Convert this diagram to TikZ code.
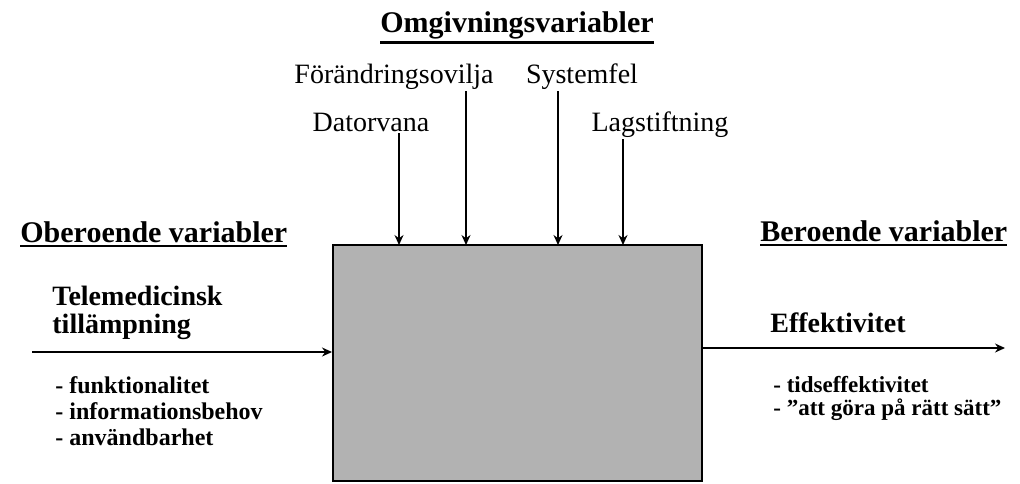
\documentclass[tikz,border=0pt]{standalone}
\usepackage{fontspec}
\setmainfont{Liberation Serif}
\usetikzlibrary{arrows.meta}

% heading with a heavy underline just under the baseline
\newcommand\ulhead[1]{\vtop{\hbox{#1}\kern1.3pt\hrule height 1.2pt}}

\begin{document}
\begin{tikzpicture}[x=0.5pt,y=-0.5pt,
    every node/.append style={inner sep=0pt},
    head/.style={font=\fontsize{15}{18}\bfseries\selectfont, anchor=base west},
    envvar/.style={font=\fontsize{14}{17}\selectfont, anchor=base, outer sep=1pt},
    varname/.style={font=\fontsize{14}{17}\bfseries\selectfont, anchor=base west},
    varitem/.style={font=\fontsize{12}{14}\bfseries\selectfont, anchor=base west},
    blackbox/.style={draw, line width=1pt, fill=black!30, minimum width=184.5pt, minimum height=118pt},
    flow/.style={-{Stealth[length=5pt,width=4.5pt]}, line width=0.7pt}]
    \useasboundingbox (0,0) rectangle (1020,483);

    % the system in the middle
    \node[blackbox] (box) at (517.5,363) {};

    % environment variables on top
    \node[head, anchor=base] (omg) at (517,32) {\ulhead{Omgivningsvariabler}};
    \node[envvar] (forand) at (394,83) {Förändringsovilja};
    \node[envvar] (sysfel) at (582,83) {Systemfel};
    \node[envvar] (dator) at (371,131) {Datorvana};
    \node[envvar] (lag) at (660,131) {Lagstiftning};
    \coordinate (in1) at (399,245);
    \coordinate (in2) at (466,245);
    \coordinate (in3) at (558,245);
    \coordinate (in4) at (623,245);
    \draw[flow] (in1 |- dator.south) -- (in1);
    \draw[flow] (in2 |- forand.south) -- (in2);
    \draw[flow] (in3 |- sysfel.south) -- (in3);
    \draw[flow] (in4 |- lag.south) -- (in4);

    % independent variables
    \node[head] (ober) at (20,242) {\ulhead{Oberoende variabler}};
    \node[varname] (tele) at (52,305) {Telemedicinsk};
    \node[varname] (till) at (52,333) {tillämpning};
    \coordinate (src) at (32,352);
    \draw[flow] (src) -- (src -| box.west);
    \node[varitem] (funk) at (55,393) {- funktionalitet};
    \node[varitem] (info) at (55,419) {- informationsbehov};
    \node[varitem] (anv) at (55,445) {- användbarhet};

    % dependent variables
    \node[head] (ber) at (760,241) {\ulhead{Beroende variabler}};
    \node[varname] (eff) at (770,332) {Effektivitet};
    \coordinate (sink) at (1005,348);
    \draw[flow] (sink -| box.east) -- (sink);
    \node[varitem, font=\fontsize{11.5}{14}\bfseries\selectfont] (tids) at (773,392) {- tidseffektivitet};
    \node[varitem, font=\fontsize{11.5}{14}\bfseries\selectfont] (ratt) at (773,415) {- ”att göra på rätt sätt”};
\end{tikzpicture}
\end{document}
